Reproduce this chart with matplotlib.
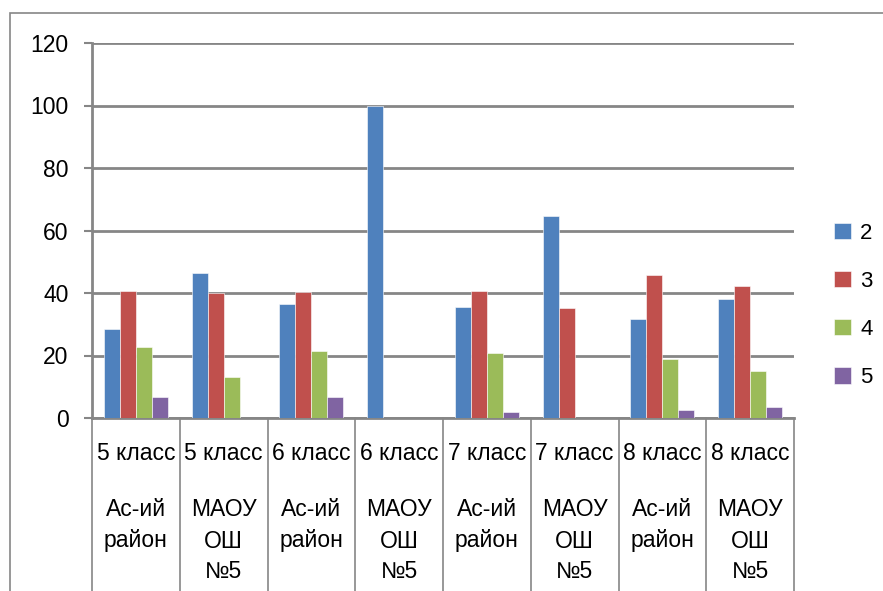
import numpy as np
import matplotlib.pyplot as plt
from matplotlib.patches import Rectangle

plt.rcParams["font.family"] = ["Liberation Sans", "DejaVu Sans"]

top_labels = ["5 класс", "5 класс", "6 класс", "6 класс",
              "7 класс", "7 класс", "8 класс", "8 класс"]
sub_labels = [["Ас-ий", "район"], ["МАОУ", "ОШ", "№5"]] * 4
series = ["2", "3", "4", "5"]
vals_2 = [28.6, 46.4, 36.4, 100.0, 35.6, 64.6, 31.6, 38.2]
vals_3 = [40.6, 40.0, 40.2, 0.0, 40.5, 35.1, 45.8, 42.1]
vals_4 = [22.8, 13.0, 21.4, 0.0, 20.7, 0.0, 18.8, 15.0]
vals_5 = [6.7, 0.0, 6.7, 0.0, 1.8, 0.0, 2.6, 3.5]
colors = ["#4f81bd", "#c0504d", "#9bbb59", "#8064a2"]
grid_c = "#868686"

W, H = 883, 591
fig = plt.figure(figsize=(W / 100, H / 100), dpi=100)
ax = fig.add_axes([92 / W, 1 - 418 / H, (794 - 92) / W, (418 - 43) / H])

x = np.arange(len(top_labels))
bw = 0.182
for i, (vals, c) in enumerate(zip([vals_2, vals_3, vals_4, vals_5], colors)):
    ax.bar(x + (i - 1.5) * bw, vals, bw, color=c, label=series[i],
           edgecolor="white", linewidth=0.4, zorder=3)

ax.set_xlim(-0.5, len(top_labels) - 0.5)
ax.set_ylim(0, 120)
ax.set_yticks(range(0, 121, 20))
ax.yaxis.grid(True, color=grid_c, linewidth=2, zorder=0)
ax.tick_params(axis="y", length=6, width=1.5, color=grid_c, labelsize=16.5, pad=11)
ax.set_xticks([])
for s in ["top", "right"]:
    ax.spines[s].set_visible(False)
for s in ["left", "bottom"]:
    ax.spines[s].set_color(grid_c)
    ax.spines[s].set_linewidth(2)

# category table lines and labels below the axis
trans = ax.get_xaxis_transform()
ybot = -(H - 418) / (418 - 43) - 0.02
for b in np.arange(-0.5, len(top_labels), 1.0):
    ax.plot([b, b], [0, ybot], transform=trans, color=grid_c, lw=1.2,
            clip_on=False)
px = 1 / (418 - 43)
for xi, t, sub in zip(x, top_labels, sub_labels):
    ax.text(xi, -(454 - 418) * px, t, transform=trans, ha="center",
            va="center", fontsize=16.5)
    for j, s in enumerate(sub):
        ax.text(xi, -(510 - 418 + j * 31) * px, s, transform=trans,
                ha="center", va="center", fontsize=16.5)

leg = ax.legend(loc="center left", bbox_to_anchor=(1.045, 0.30),
                borderaxespad=0, frameon=False, fontsize=16,
                handlelength=0.75, handleheight=0.75,
                labelspacing=1.22, handletextpad=0.4)

# outer chart border
fig.patches.append(Rectangle((10 / W, 0 - 0.05), 1.0, 1 - 13 / H + 0.05,
                             transform=fig.transFigure, fill=False,
                             edgecolor=grid_c, linewidth=1.2))

fig.savefig("out.png", dpi=100)
